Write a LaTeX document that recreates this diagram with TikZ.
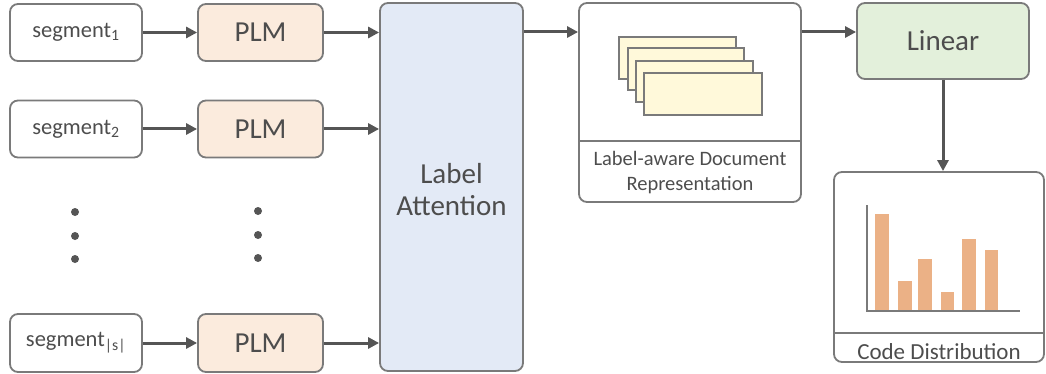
\documentclass[tikz,border=0pt]{standalone}
\usepackage{fontspec}
\setmainfont{Carlito}
\usetikzlibrary{arrows.meta}
\definecolor{txt}{HTML}{4D4D4D}
\definecolor{bord}{HTML}{7A7A7A}
\definecolor{arr}{HTML}{555555}
\definecolor{plmfill}{HTML}{FBEBDD}
\definecolor{lafill}{HTML}{E3EAF6}
\definecolor{linfill}{HTML}{E3F0DB}
\definecolor{docfill}{HTML}{FFF9DA}
\definecolor{barfill}{HTML}{EBB186}
\tikzset{
  box/.style={draw=bord, line width=1.8pt, rounded corners=8pt, inner sep=0pt, text=txt, align=center},
  conn/.style={draw=arr, line width=3pt, -{Triangle[length=11pt,width=11pt]}},
  dotc/.style={circle, fill=arr, inner sep=0pt, minimum size=8pt},
  sheet/.style={draw=bord, line width=1.2pt, fill=docfill},
}
\begin{document}
\begin{tikzpicture}[x=1pt,y=-1pt]
\useasboundingbox (0,0) rectangle (1046,374);
% segments
\begin{scope}[font=\fontsize{22.5}{26}\selectfont]
\node[box, minimum width=132, minimum height=57] (s1) at (76,32.5) {segment\textsubscript{1}};
\node[box, minimum width=132, minimum height=57] (s2) at (76,129) {segment\textsubscript{2}};
\node[box, minimum width=132, minimum height=58] (s3) at (76,343) {segment\textsubscript{|s|}};
\end{scope}
\begin{scope}[font=\fontsize{29}{33}\selectfont]
\node[box, fill=plmfill, minimum width=125, minimum height=57] (p1) at (260.5,32.5) {PLM};
\node[box, fill=plmfill, minimum width=125, minimum height=57] (p2) at (260.5,129) {PLM};
\node[box, fill=plmfill, minimum width=125, minimum height=58] (p3) at (260.5,343) {PLM};
\node[box, fill=lafill, minimum width=143, minimum height=368] (la) at (451.5,187) {};
\node[text=txt, align=center] (lat) at (451.5,190) {Label\\[-1pt]Attention};
\node[box, fill=linfill, minimum width=172, minimum height=76] (lin) at (943,41) {Linear};
\end{scope}
% dots
\node[dotc] (d1) at (75,212) {};
\node[dotc] (d2) at (75,236) {};
\node[dotc] (d3) at (75,259) {};
\node[dotc] (d4) at (258,211) {};
\node[dotc] (d5) at (258,235) {};
\node[dotc] (d6) at (258,258) {};
% document representation
\node[box, minimum width=222, minimum height=199] (doc) at (690,102.5) {};
\draw[draw=bord, line width=1.6pt] (doc.west |- 0,141) coordinate (dl) -- (doc.east |- 0,141) coordinate (dr);
\node[text=txt, font=\fontsize{20.5}{25}\selectfont, align=center] (doct) at (690,172.5) {Label-aware Document\\Representation};
\draw[sheet] (619,37) rectangle (736,79);
\draw[sheet] (628,48) rectangle (744,90);
\draw[sheet] (636,61) rectangle (753,102);
\draw[sheet] (644,73) rectangle (762,115);
% code distribution
\node[box, minimum width=210, minimum height=190] (cd) at (939,267) {};
\draw[draw=bord, line width=1.6pt] (cd.west |- 0,333) -- (cd.east |- 0,333);
\node[text=txt, font=\fontsize{23}{26}\selectfont] (cdt) at (939,352) {Code Distribution};
\fill[barfill] (875,214) rectangle (889,311);
\fill[barfill] (898,281) rectangle (912,311);
\fill[barfill] (918,259) rectangle (932,311);
\fill[barfill] (941,292) rectangle (954,311);
\fill[barfill] (962,239) rectangle (976,311);
\fill[barfill] (985,250) rectangle (998,311);
\draw[draw=bord, line width=1.2pt] (867,205) -- (867,311) -- (1020,311);
% connectors
\draw[conn] (s1) -- (p1);
\draw[conn] (s2) -- (p2);
\draw[conn] (s3) -- (p3);
\draw[conn] (p1.east) -- (p1.east -| la.west);
\draw[conn] (p2.east) -- (p2.east -| la.west);
\draw[conn] (p3.east) -- (p3.east -| la.west);
\draw[conn] (la.east |- 0,32) -- (doc.west |- 0,32);
\draw[conn] (doc.east |- 0,32) -- (lin.west |- 0,32);
\draw[conn] (lin.south) -- (lin.south |- cd.north);
\end{tikzpicture}
\end{document}
